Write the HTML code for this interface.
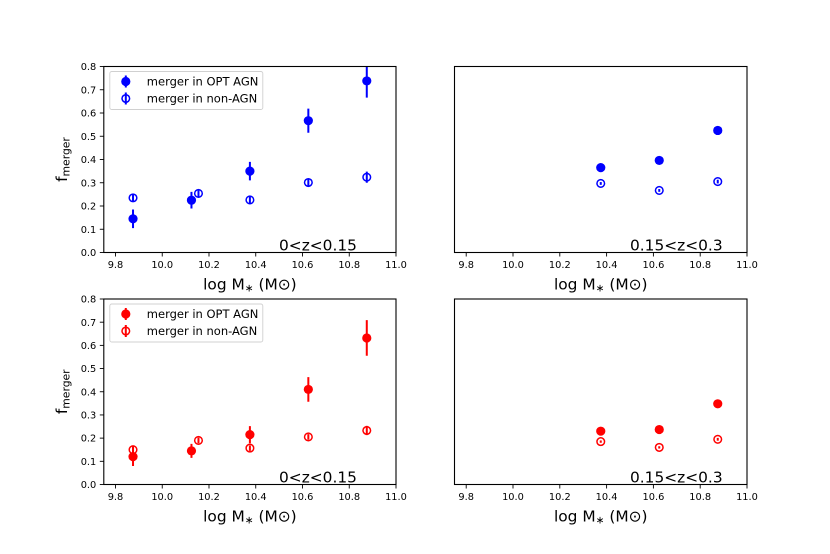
<!DOCTYPE html>
<html>
<head>
<meta charset="utf-8">
<title>Merger fraction vs stellar mass</title>
<style>
html,body{margin:0;padding:0;background:#fff;}
svg{display:block;filter:blur(0.35px);}
text{font-family:"DejaVu Sans","Liberation Sans",sans-serif;fill:#000;}
</style>
</head>
<body>
<svg id="chart" xmlns="http://www.w3.org/2000/svg" width="830" height="554" viewBox="0 0 830 554"></svg>
<script>
// Categories and tick labels
const xTicks = [9.8, 10.0, 10.2, 10.4, 10.6, 10.8, 11.0];
const yTicks = [0.0, 0.1, 0.2, 0.3, 0.4, 0.5, 0.6, 0.7, 0.8];
const massAgn = [9.875, 10.125, 10.375, 10.625, 10.875];
const massNon = [9.875, 10.155, 10.375, 10.625, 10.875];
const massHighZ = [10.375, 10.625, 10.875];

// Low-z blue
const blueLowAgn = [0.145, 0.225, 0.35, 0.567, 0.738];
const blueLowAgnErr = [0.04, 0.036, 0.04, 0.052, 0.072];
const blueLowNon = [0.235, 0.254, 0.226, 0.301, 0.324];
const blueLowNonErr = [0.015, 0.014, 0.014, 0.014, 0.024];
// High-z blue
const blueHighAgn = [0.365, 0.396, 0.525];
const blueHighAgnErr = [0.008, 0.008, 0.018];
const blueHighNon = [0.297, 0.267, 0.305];
const blueHighNonErr = [0.006, 0.006, 0.008];
// Low-z red
const redLowAgn = [0.12, 0.145, 0.215, 0.41, 0.632];
const redLowAgnErr = [0.04, 0.03, 0.037, 0.053, 0.077];
const redLowNon = [0.15, 0.19, 0.157, 0.205, 0.233];
const redLowNonErr = [0.014, 0.012, 0.012, 0.012, 0.02];
// High-z red
const redHighAgn = [0.23, 0.237, 0.348];
const redHighAgnErr = [0.006, 0.006, 0.012];
const redHighNon = [0.185, 0.16, 0.195];
const redHighNonErr = [0.005, 0.005, 0.006];

const NS = 'http://www.w3.org/2000/svg';
const svg = document.getElementById('chart');
const X_MIN = 9.75, X_MAX = 11.0, Y_MIN = 0, Y_MAX = 0.8;

function make(parent, tag, name, attrs, content) {
  const el = document.createElementNS(NS, tag);
  
  
  for (const k in attrs) el.setAttribute(k, attrs[k]);
  if (content !== undefined) el.textContent = content;
  parent.appendChild(el);
  return el;
}

function addXLabel(g, cx, y) {
  const t = make(g, 'text', 'x-axis-title', {x: cx, y: y, 'text-anchor': 'middle', 'font-size': '15.4'});
  t.appendChild(document.createTextNode('log M'));
  const sub = document.createElementNS(NS, 'tspan');
  sub.setAttribute('font-size', '10.5');
  sub.setAttribute('dy', '2');
  sub.textContent = '\u2217';
  t.appendChild(sub);
  const rest = document.createElementNS(NS, 'tspan');
  rest.setAttribute('dy', '-2');
  rest.textContent = ' (M\u2299)';
  t.appendChild(rest);
}

function addYLabel(g, x, y) {
  const t = make(g, 'text', 'y-axis-title', {transform: 'translate(' + x + ',' + y + ') rotate(-90)', 'text-anchor': 'middle', 'font-size': '15.4'});
  t.appendChild(document.createTextNode('f'));
  const sub = document.createElementNS(NS, 'tspan');
  sub.setAttribute('font-size', '10.8');
  sub.setAttribute('dy', '2.5');
  sub.textContent = 'merger';
  t.appendChild(sub);
}

function drawSeries(g, name, xs, ys, errs, sx, sy, color, filled) {
  xs.forEach(function (xv, i) {
    const px = sx(xv);
    const pt = make(g, 'g', name + '-point', {});
    make(pt, 'line', name + '-error-bar', {x1: px, x2: px, y1: sy(ys[i] - errs[i]), y2: sy(ys[i] + errs[i]), stroke: color, 'stroke-width': 2});
    if (filled) {
      make(pt, 'circle', name + '-marker', {cx: px, cy: sy(ys[i]), r: 4.6, fill: color});
    } else {
      make(pt, 'circle', name + '-marker', {cx: px, cy: sy(ys[i]), r: 3.8, fill: 'none', stroke: color, 'stroke-width': 1.5});
    }
  });
}

function panel(cfg) {
  const L = cfg.left, R = cfg.right, T = cfg.top, B = cfg.bottom;
  const sx = function (v) { return L + (v - X_MIN) / (X_MAX - X_MIN) * (R - L); };
  const sy = function (v) { return B - (v - Y_MIN) / (Y_MAX - Y_MIN) * (B - T); };
  const g = make(svg, 'g', cfg.name, {});

  const clipId = cfg.name + '-clip';
  const defs = document.createElementNS(NS, 'defs');
  const clip = document.createElementNS(NS, 'clipPath');
  clip.setAttribute('id', clipId);
  const rect = document.createElementNS(NS, 'rect');
  rect.setAttribute('x', L);
  rect.setAttribute('y', T);
  rect.setAttribute('width', R - L);
  rect.setAttribute('height', B - T);
  clip.appendChild(rect);
  defs.appendChild(clip);
  g.appendChild(defs);

  const marks = make(g, 'g', 'data-series', {'clip-path': 'url(#' + clipId + ')'});
  drawSeries(marks, 'agn-series', cfg.xAgn, cfg.agn, cfg.agnErr, sx, sy, cfg.color, true);
  drawSeries(marks, 'non-agn-series', cfg.xNon, cfg.non, cfg.nonErr, sx, sy, cfg.color, false);

  make(g, 'rect', 'plot-frame', {x: L, y: T, width: R - L, height: B - T, fill: 'none', stroke: '#000', 'stroke-width': 1.1});

  xTicks.forEach(function (v) {
    make(g, 'line', 'x-tick', {x1: sx(v), x2: sx(v), y1: B, y2: B + 4, stroke: '#000', 'stroke-width': 0.9});
    make(g, 'text', 'x-tick-label', {x: sx(v), y: B + 15.5, 'text-anchor': 'middle', 'font-size': '9.8'}, v.toFixed(1));
  });

  if (cfg.showY) {
    yTicks.forEach(function (v) {
      make(g, 'line', 'y-tick', {x1: L - 4, x2: L, y1: sy(v), y2: sy(v), stroke: '#000', 'stroke-width': 0.9});
      make(g, 'text', 'y-tick-label', {x: L - 7.5, y: sy(v) + 3.6, 'text-anchor': 'end', 'font-size': '9.8'}, v.toFixed(1));
    });
    addYLabel(g, 67, (T + B) / 2);
  }

  addXLabel(g, (L + R) / 2, B + 37);
  make(g, 'text', 'redshift-label', {x: cfg.zx, y: B - 2, 'font-size': '15.4'}, cfg.zlabel);

  if (cfg.showLegend) {
    const lg = make(g, 'g', 'legend', {});
    make(lg, 'rect', 'legend-frame', {x: L + 6, y: T + 5, width: 153, height: 38, rx: 2, fill: '#fff', stroke: '#d0d0d0', 'stroke-width': 0.9});
    const y1 = T + 15, y2 = T + 32;
    const mx = L + 22;
    make(lg, 'line', 'legend-agn-error-bar', {x1: mx, x2: mx, y1: y1 - 6, y2: y1 + 6, stroke: cfg.color, 'stroke-width': 2});
    make(lg, 'circle', 'legend-agn-marker', {cx: mx, cy: y1, r: 4.6, fill: cfg.color});
    make(lg, 'text', 'legend-agn-label', {x: L + 43, y: y1 + 3.8, 'font-size': '11.5'}, 'merger in OPT AGN');
    make(lg, 'line', 'legend-non-agn-error-bar', {x1: mx, x2: mx, y1: y2 - 6, y2: y2 + 6, stroke: cfg.color, 'stroke-width': 2});
    make(lg, 'circle', 'legend-non-agn-marker', {cx: mx, cy: y2, r: 3.8, fill: 'none', stroke: cfg.color, 'stroke-width': 1.5});
    make(lg, 'text', 'legend-non-agn-label', {x: L + 43, y: y2 + 3.8, 'font-size': '11.5'}, 'merger in non-AGN');
  }
}

panel({name: 'panel-top-left', left: 103.8, right: 396, top: 66.5, bottom: 252.5, color: '#0000ff', showY: true, showLegend: true,
  xAgn: massAgn, agn: blueLowAgn, agnErr: blueLowAgnErr, xNon: massNon, non: blueLowNon, nonErr: blueLowNonErr, zlabel: '0<z<0.15', zx: 279});
panel({name: 'panel-top-right', left: 454.5, right: 747, top: 66.5, bottom: 252.5, color: '#0000ff', showY: false, showLegend: false,
  xAgn: massHighZ, agn: blueHighAgn, agnErr: blueHighAgnErr, xNon: massHighZ, non: blueHighNon, nonErr: blueHighNonErr, zlabel: '0.15<z<0.3', zx: 630});
panel({name: 'panel-bottom-left', left: 103.8, right: 396, top: 299, bottom: 484.5, color: '#ff0000', showY: true, showLegend: true,
  xAgn: massAgn, agn: redLowAgn, agnErr: redLowAgnErr, xNon: massNon, non: redLowNon, nonErr: redLowNonErr, zlabel: '0<z<0.15', zx: 279});
panel({name: 'panel-bottom-right', left: 454.5, right: 747, top: 299, bottom: 484.5, color: '#ff0000', showY: false, showLegend: false,
  xAgn: massHighZ, agn: redHighAgn, agnErr: redHighAgnErr, xNon: massHighZ, non: redHighNon, nonErr: redHighNonErr, zlabel: '0.15<z<0.3', zx: 630});
</script>
</body>
</html>
